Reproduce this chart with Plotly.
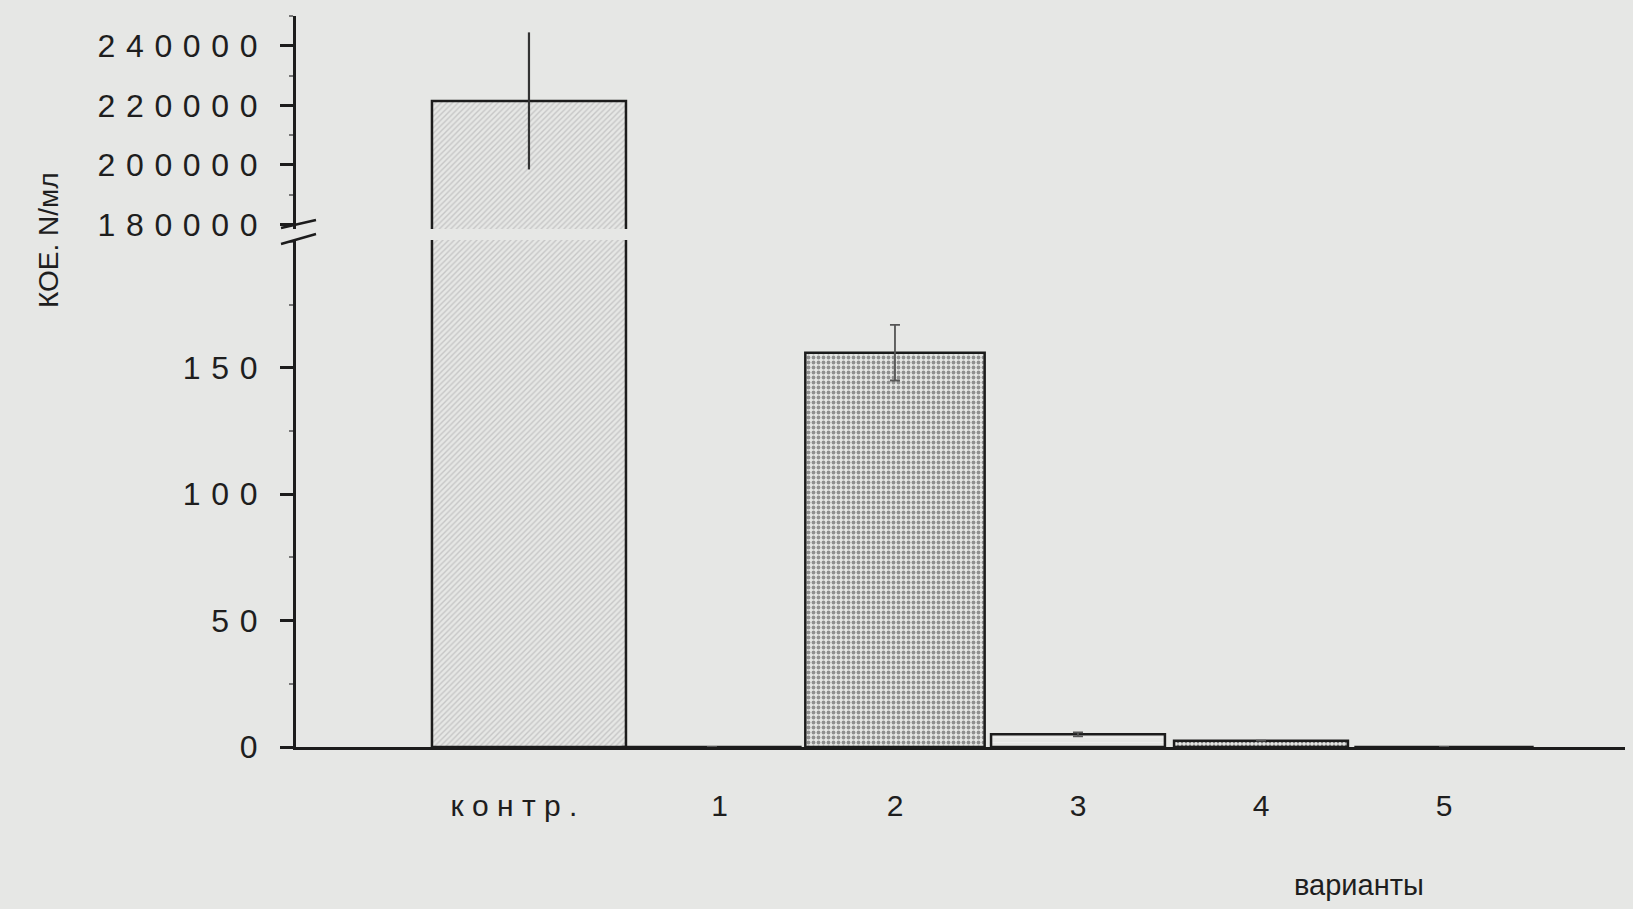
import plotly.graph_objects as go

# ---- data ----
categories = ["контр.", "1", "2", "3", "4", "5"]
values = [221500, 0, 156, 5, 2.5, 0]
errors = [23000, 0, 11, 0.8, 0, 0]
x_tick_labels = ["к о н т р .\u2003", "\u20021", "2", "3", "4", "5"]
upper_ticks = [180000, 200000, 220000, 240000]
lower_ticks = [0, 50, 100, 150]
y_title = "КОЕ. N/мл"
x_title = "варианты"

SP = "\u2004"
def spaced(v):
    return SP.join(str(v))

W, H = 1633, 909
L, R, T, B = 296, 8, 16, 162
PW, PH = W - L - R, H - T - B

def px2paper(px, py):
    return (px - L) / PW, (H - B - py) / PH

BG = "#e6e7e5"
INK = "#1c1c1c"
TXT = "#1e1e1e"
FONT = "Liberation Sans, Arial, sans-serif"

bar_style = dict(
    color=["#c6c6c6", "#c6c6c6", "#8f8f8f", "#eeeeee", "#777777", "#c6c6c6"],
    line=dict(color=INK, width=2.5),
    pattern=dict(
        shape=["/", "/", ".", "-", ".", "/"],
        fgcolor=["#868686", "#868686", "#cfcfcf", "#808080", "#d0d0d0", "#868686"],
        bgcolor=["#c8c8c8", "#c8c8c8", "#8f8f8f", "#eeeeee", "#777777", "#c8c8c8"],
        size=[4, 4, 5, 5, 4, 4],
        solidity=[0.35, 0.35, 0.45, 0.2, 0.4, 0.35],
        fillmode="replace",
    ),
)
widths = [1.06, 0.98, 0.98, 0.95, 0.95, 0.98]

fig = go.Figure()
# lower segment
fig.add_trace(go.Bar(
    x=categories, y=values, width=widths, marker=bar_style,
    error_y=dict(type="data", array=errors, visible=True, color="#555555",
                 thickness=1.8, width=5),
    xaxis="x", yaxis="y", showlegend=False, hoverinfo="skip",
))
# upper segment
fig.add_trace(go.Bar(
    x=categories, y=values, width=widths, marker=bar_style,
    error_y=dict(type="data", array=errors, visible=True, color="#333333",
                 thickness=2.2, width=0),
    xaxis="x", yaxis="y2", showlegend=False, hoverinfo="skip",
))

lower_top = (H - B - 240) / PH
upper_bot = (H - B - 229) / PH

axis_common = dict(
    showline=True, linecolor=INK, linewidth=3, ticks="outside", ticklen=13,
    tickwidth=2.5, tickcolor=INK, showgrid=False, zeroline=False,
    tickfont=dict(family=FONT, size=32, color=TXT), ticklabelstandoff=16,
)

fig.update_layout(
    width=W, height=H,
    margin=dict(l=L, r=R, t=T, b=B),
    paper_bgcolor=BG, plot_bgcolor=BG,
    barmode="overlay",
    xaxis=dict(
        type="category", range=[-1.273, 5.989],
        showline=True, linecolor=INK, linewidth=2.5, ticks="",
        tickvals=categories, ticktext=x_tick_labels,
        tickfont=dict(family=FONT, size=30, color=TXT),
        ticklabelstandoff=30, showgrid=False, zeroline=False,
        anchor="y",
    ),
    yaxis=dict(
        domain=[0, lower_top], range=[0, 200.6],
        tickvals=lower_ticks, ticktext=[spaced(v) for v in lower_ticks],
        minor=dict(dtick=25, ticklen=4, tickwidth=2, tickcolor="#777", ticks="outside"),
        anchor="x", **axis_common,
    ),
    yaxis2=dict(
        domain=[upper_bot, 1], range=[178500, 250000],
        tickvals=upper_ticks, ticktext=[spaced(v) for v in upper_ticks],
        minor=dict(dtick=10000, ticklen=4, tickwidth=2, tickcolor="#777", ticks="outside"),
        anchor="x", **axis_common,
    ),
)

# axis break marks
for (ya, yb) in ((228, 220), (244, 234)):
    x0p, y0p = px2paper(281, ya)
    x1p, y1p = px2paper(316, yb)
    fig.add_shape(type="line", xref="paper", yref="paper",
                  x0=x0p, y0=y0p, x1=x1p, y1=y1p,
                  line=dict(color=INK, width=2.5))

ax, ay = px2paper(48, 240)
fig.add_annotation(text=y_title, xref="paper", yref="paper", x=ax, y=ay,
                   xanchor="center", yanchor="middle",
                   textangle=-90, showarrow=False,
                   font=dict(family=FONT, size=28, color=TXT))
tx, ty = px2paper(1359, 885)
fig.add_annotation(text=x_title, xref="paper", yref="paper", x=tx, y=ty,
                   xanchor="center", yanchor="middle",
                   showarrow=False,
                   font=dict(family=FONT, size=29, color=TXT))

fig.write_html("out.html")
